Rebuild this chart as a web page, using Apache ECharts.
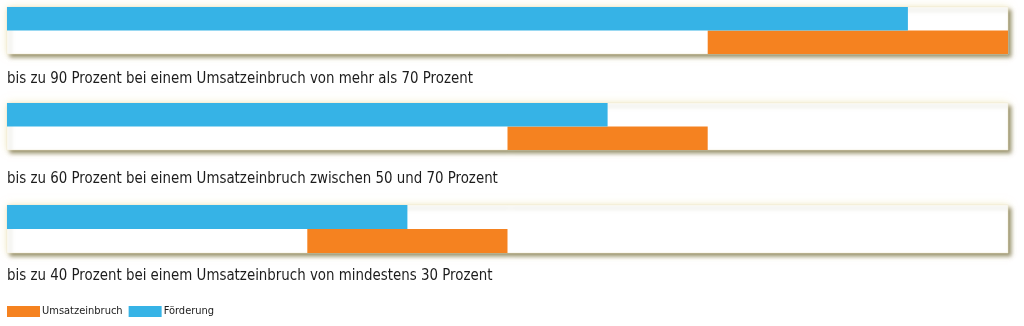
<!DOCTYPE html>
<html>
<head>
<meta charset="utf-8">
<script src="https://cdn.jsdelivr.net/npm/echarts@6/dist/echarts.min.js"></script>
<style>
html,body{margin:0;padding:0;background:#fff;}
#c{width:1024px;height:326px;}
</style>
</head>
<body>
<div id="c"></div>
<script>
const categories = ['Förderung', 'Umsatzeinbruch'];
const panelLabels = [
  'bis zu 90 Prozent bei einem Umsatzeinbruch von mehr als 70 Prozent',
  'bis zu 60 Prozent bei einem Umsatzeinbruch zwischen 50 und 70 Prozent',
  'bis zu 40 Prozent bei einem Umsatzeinbruch von mindestens 30 Prozent'
];
const foerderung = [90, 60, 40];
const umsatzVon = [70, 50, 30];
const umsatzBis = [100, 70, 50];

const BLUE = '#36b3e6';
const ORANGE = '#f58220';
const FONT = '"DejaVu Sans Condensed", "Liberation Sans Narrow", sans-serif';

const gridTops = [7, 103, 205];
const gridHeights = [47, 47, 48];
const labelMid = [79, 178.5, 275.5];

const grids = [], xAxes = [], yAxes = [], series = [], graphics = [];
// glow grids (decorative background, hidden axes)
for (let i = 0; i < 3; i++) {
  grids.push({
    show: true, left: 7, width: 1001, top: gridTops[i], height: gridHeights[i],
    backgroundColor: '#ffffff', borderWidth: 0,
    shadowColor: 'rgba(235,220,150,0.55)', shadowBlur: 8, shadowOffsetX: 0, shadowOffsetY: 0, z: 0
  });
  xAxes.push({ type: 'value', gridIndex: i, min: 0, max: 100, show: false });
  yAxes.push({ type: 'category', gridIndex: i, data: categories, inverse: true, show: false });
}
for (let i = 0; i < 3; i++) {
  const g = i + 3;
  grids.push({
    show: true, left: 7, width: 1001, top: gridTops[i], height: gridHeights[i],
    backgroundColor: '#ffffff', borderColor: '#f4eed2', borderWidth: 0.5,
    shadowColor: 'rgba(120,112,70,0.75)', shadowBlur: 4, shadowOffsetX: 3, shadowOffsetY: 3, z: 1
  });
  xAxes.push({ type: 'value', gridIndex: g, min: 0, max: 100, show: false });
  yAxes.push({ type: 'category', gridIndex: g, data: categories, inverse: true, show: false });
  series.push({
    name: 'base', type: 'bar', stack: 's' + i, xAxisIndex: g, yAxisIndex: g,
    data: ['-', umsatzVon[i]], itemStyle: { color: 'rgba(0,0,0,0)' },
    barCategoryGap: '0%', silent: true, z: 3
  });
  series.push({
    name: 'Umsatzeinbruch', type: 'bar', stack: 's' + i, xAxisIndex: g, yAxisIndex: g,
    data: ['-', umsatzBis[i] - umsatzVon[i]], itemStyle: { color: ORANGE },
    barCategoryGap: '0%', z: 3
  });
  series.push({
    name: 'Förderung', type: 'bar', stack: 's' + i, xAxisIndex: g, yAxisIndex: g,
    data: [foerderung[i], '-'], itemStyle: { color: BLUE },
    barCategoryGap: '0%', z: 3
  });
  graphics.push({
    type: 'text', x: 7, y: labelMid[i], scaleX: 0.93,
    style: {
      text: panelLabels[i], fontFamily: FONT, fontSize: 16,
      fill: '#1c1c1c', verticalAlign: 'middle', align: 'left'
    }
  });
}

const chart = echarts.init(document.getElementById('c'), null, { renderer: 'canvas' });
chart.setOption({
  animation: false,
  backgroundColor: '#ffffff',
  graphic: graphics,
  legend: {
    data: ['Umsatzeinbruch', 'Förderung'],
    left: 7, top: 306, padding: 0,
    itemWidth: 33, itemHeight: 11, itemGap: 6,
    icon: 'rect',
    textStyle: { fontFamily: FONT, fontSize: 11, color: '#1c1c1c', padding: [0, 0, 0, -3] }
  },
  grid: grids,
  xAxis: xAxes,
  yAxis: yAxes,
  series: series
});
</script>
</body>
</html>
